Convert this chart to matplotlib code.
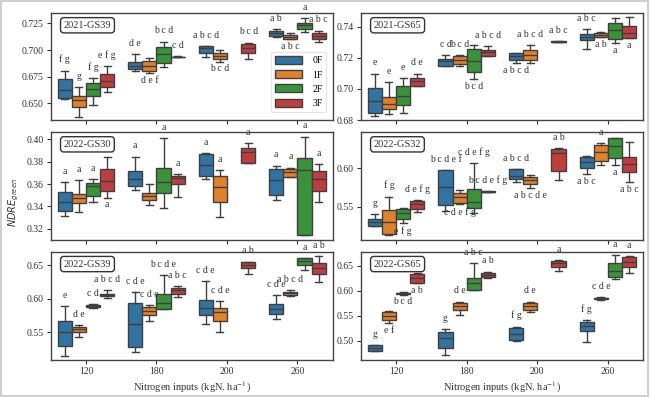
import matplotlib
matplotlib.use('Agg')
import matplotlib.pyplot as plt
from matplotlib.patches import Patch, Rectangle

plt.rcParams['font.family'] = ['Liberation Serif', 'DejaVu Serif']

# ---------------- data ----------------
groups = ['120', '180', '200', '260']
hues = ['0F', '1F', '2F', '3F']
colors = ['#3274a1', '#e1812c', '#3a923a', '#c03d3e']
titles = ['2021-GS39', '2021-GS65', '2022-GS30', '2022-GS32', '2022-GS39', '2022-GS65']
xlabel = 'Nitrogen inputs (kgN. ha$^{-1}$)'
ylabel = '$NDRE_{green}$'

# box stats per box: (whisker low, q1, median, q3, whisker high); None = no box
# ---- 2021-GS39
A_0F = [(0.6538, 0.6547, 0.6625, 0.6725, 0.6806), (0.6806, 0.6822, 0.6853, 0.6891, 0.6963), (0.6938, 0.6975, 0.7016, 0.7038, 0.7038), (0.7119, 0.7131, 0.7156, 0.7181, 0.7194)]
A_1F = [(0.6375, 0.6463, 0.6531, 0.6569, 0.6650), (0.6780, 0.6803, 0.6853, 0.6900, 0.6922), (0.6891, 0.6913, 0.6944, 0.6969, 0.7000), (0.7100, 0.7106, 0.7125, 0.7144, 0.7156)]
A_2F = [(0.6481, 0.6569, 0.6631, 0.6694, 0.6734), (0.6838, 0.6881, 0.6963, 0.7025, 0.7078), None, (0.7172, 0.7200, 0.7234, 0.7256, 0.7297)]
A_3F = [(0.6609, 0.6650, 0.6713, 0.6775, 0.6850), (0.6932, 0.6934, 0.6936, 0.6938, 0.6940), (0.6913, 0.6975, 0.7016, 0.7056, 0.7069), (0.7078, 0.7100, 0.7131, 0.7156, 0.7181)]
# ---- 2021-GS65
B_0F = [(0.6826, 0.6847, 0.6921, 0.7006, 0.7098), (0.7149, 0.7149, 0.7177, 0.7191, 0.7219), (0.7166, 0.7187, 0.7209, 0.7230, 0.7230), (0.7255, 0.7315, 0.7336, 0.7353, 0.7383)]
B_1F = [(0.6836, 0.6872, 0.6906, 0.6949, 0.7043), (0.7145, 0.7162, 0.7187, 0.7213, 0.7219), (0.7166, 0.7187, 0.7219, 0.7247, 0.7283), (0.7332, 0.7336, 0.7347, 0.7357, 0.7368)]
B_2F = [(0.6843, 0.6894, 0.6957, 0.7017, 0.7070), (0.7064, 0.7106, 0.7177, 0.7255, 0.7283), None, (0.7294, 0.7319, 0.7379, 0.7426, 0.7453)]
B_3F = [(0.7021, 0.7021, 0.7049, 0.7070, 0.7098), (0.7213, 0.7213, 0.7234, 0.7251, 0.7277), (0.7300, 0.7302, 0.7304, 0.7306, 0.7308), (0.7326, 0.7326, 0.7357, 0.7404, 0.7460)]
# ---- 2022-GS30
C_0F = [(0.3319, 0.3360, 0.3437, 0.3526, 0.3615), (0.3547, 0.3585, 0.3644, 0.3716, 0.3843), (0.3644, 0.3674, 0.3769, 0.3864, 0.3873), (0.3458, 0.3502, 0.3636, 0.3733, 0.3763)]
C_1F = [(0.3348, 0.3428, 0.3479, 0.3508, 0.3636), (0.3413, 0.3458, 0.3496, 0.3517, 0.3597), (0.3310, 0.3443, 0.3576, 0.3674, 0.3724), (0.3665, 0.3665, 0.3710, 0.3733, 0.3745)]
C_2F = [(0.3437, 0.3496, 0.3585, 0.3606, 0.3644), (0.3384, 0.3517, 0.3621, 0.3745, 0.4006), None, (0.3147, 0.3147, 0.3724, 0.3834, 0.4021)]
C_3F = [(0.3479, 0.3538, 0.3627, 0.3733, 0.3843), (0.3487, 0.3597, 0.3650, 0.3674, 0.3686), (0.3784, 0.3784, 0.3881, 0.3917, 0.3961), (0.3437, 0.3538, 0.3644, 0.3716, 0.3775)]
# ---- 2022-GS32
D_0F = [(0.5252, 0.5252, 0.5304, 0.5339, 0.5400), (0.5443, 0.5522, 0.5761, 0.5978, 0.5978), (0.5826, 0.5861, 0.5904, 0.5991, 0.5991), (0.5922, 0.6009, 0.6087, 0.6152, 0.6165)]
D_1F = [(0.5130, 0.5139, 0.5296, 0.5457, 0.5630), (0.5530, 0.5543, 0.5630, 0.5674, 0.5717), (0.5739, 0.5791, 0.5848, 0.5891, 0.5913), (0.6043, 0.6096, 0.6209, 0.6304, 0.6326)]
D_2F = [(0.5283, 0.5339, 0.5413, 0.5470, 0.5487), (0.5413, 0.5487, 0.5565, 0.5730, 0.6065), None, (0.6043, 0.6139, 0.6296, 0.6400, 0.6400)]
D_3F = [(0.5435, 0.5470, 0.5530, 0.5574, 0.5587), (0.5686, 0.5691, 0.5696, 0.5701, 0.5706), (0.5848, 0.5965, 0.6196, 0.6252, 0.6261), (0.5817, 0.5957, 0.6052, 0.6152, 0.6339)]
# ---- 2022-GS39
E_0F = [(0.5150, 0.5300, 0.5500, 0.5665, 0.5885), (0.5200, 0.5285, 0.5615, 0.5935, 0.6100), (0.5625, 0.5750, 0.5865, 0.5985, 0.6265), (0.5700, 0.5775, 0.5850, 0.5925, 0.6050)]
E_1F = [(0.5435, 0.5500, 0.5550, 0.5585, 0.5600), (0.5665, 0.5750, 0.5815, 0.5875, 0.5900), (0.5500, 0.5665, 0.5800, 0.5865, 0.5965), (0.6035, 0.6060, 0.6085, 0.6105, 0.6125)]
E_2F = [(0.5855, 0.5875, 0.5895, 0.5905, 0.5915), (0.5850, 0.5850, 0.5935, 0.6075, 0.6350), None, (0.6425, 0.6500, 0.6565, 0.6600, 0.6600)]
E_3F = [(0.6015, 0.6035, 0.6055, 0.6075, 0.6125), (0.6025, 0.6065, 0.6135, 0.6165, 0.6185), (0.6365, 0.6450, 0.6500, 0.6550, 0.6550), (0.6250, 0.6365, 0.6450, 0.6535, 0.6635)]
# ---- 2022-GS65
F_0F = [(0.4792, 0.4792, 0.4859, 0.4913, 0.4913), (0.4712, 0.4846, 0.5047, 0.5181, 0.5228), (0.5000, 0.5013, 0.5134, 0.5248, 0.5281), (0.4980, 0.5201, 0.5295, 0.5382, 0.5415)]
F_1F = [(0.5348, 0.5415, 0.5496, 0.5583, 0.5603), (0.5516, 0.5616, 0.5697, 0.5750, 0.5784), (0.5583, 0.5616, 0.5697, 0.5764, 0.5784), (0.5825, 0.5835, 0.5851, 0.5865, 0.5875)]
F_2F = [(0.5925, 0.5935, 0.5951, 0.5965, 0.5975), (0.6018, 0.6018, 0.6152, 0.6252, 0.6554), None, (0.6232, 0.6273, 0.6407, 0.6554, 0.6721)]
F_3F = [(0.6152, 0.6152, 0.6253, 0.6340, 0.6366), (0.6253, 0.6273, 0.6320, 0.6353, 0.6386), (0.6407, 0.6474, 0.6554, 0.6607, 0.6621), (0.6366, 0.6474, 0.6587, 0.6688, 0.6701)]

# significance letters per hue, and whether written above (u) or below (d) the box
A_letters = [['f g', 'd e', 'a b c d', 'a b'], ['g', 'd e f', 'b c d', 'a b c'], ['f g', 'b c d', None, 'a'], ['e f g', 'c d', 'b c d', 'a b c']]
A_side = [['u', 'u', 'u', 'u'], ['u', 'd', 'd', 'd'], ['u', 'u', None, 'u'], ['u', 'u', 'u', 'u']]
B_letters = [['e', 'c d', 'a b c d', 'a b c'], ['e', 'b c d', 'a b c d', 'a b'], ['e', 'b c d', None, 'a'], ['d e', 'a b c d', 'a b c', 'a']]
B_side = [['u', 'u', 'd', 'u'], ['u', 'u', 'u', 'd'], ['u', 'd', None, 'd'], ['u', 'u', 'u', 'd']]
C_letters = [['a', 'a', 'a', 'a'], ['a', None, 'a', 'a'], ['a', 'a', None, 'a'], ['a', 'a', 'a', 'a']]
C_side = [['u', 'u', 'u', 'u'], ['u', None, 'u', 'u'], ['u', 'u', None, 'u'], ['d', 'u', 'u', 'u']]
D_letters = [['g', 'b c d e f', 'a b c d', 'a b c'], ['f g', 'c d e f g', 'a b c d e', 'a'], ['e f g', 'c d e f g', None, 'a'], ['d e f g', 'b c d e f g', 'a b', 'a b c']]
D_side = [['u', 'u', 'u', 'd'], ['u', 'd', 'd', 'u'], ['d', 'u', None, 'd'], ['u', 'u', 'u', 'd']]
E_letters = [['e', 'c d e', 'c d e', 'c d e'], ['d e', 'c d e', 'c d e', 'a b c d'], ['c d', 'b c d e', None, 'a'], ['a b c d', 'a b c', 'a b', 'a b']]
E_side = [['u', 'u', 'u', 'u'], ['u', 'u', 'u', 'u'], ['u', 'u', None, 'u'], ['u', 'u', 'u', 'u']]
F_letters = [['g', 'g', 'f g', 'f g'], ['e f', 'd e', 'd e', 'c d e'], ['b c d', 'a b c', None, 'a'], ['a b', 'a b', 'a', 'a']]
F_side = [['u', 'u', 'u', 'u'], ['d', 'u', 'u', 'u'], ['d', 'u', None, 'u'], ['d', 'u', 'u', 'u']]

yticks_all = [[0.650, 0.675, 0.700, 0.725], [0.68, 0.70, 0.72, 0.74], [0.32, 0.34, 0.36, 0.38, 0.40],
              [0.55, 0.60], [0.55, 0.60, 0.65], [0.50, 0.55, 0.60, 0.65]]
ytick_fmt = ['%.3f', '%.2f', '%.2f', '%.2f', '%.2f', '%.2f']
ylims = [(0.6344, 0.7344), (0.6803, 0.7486), (0.3102, 0.406), (0.5066, 0.647), (0.5086, 0.6695), (0.461, 0.678)]

panel_boxes = [[A_0F, A_1F, A_2F, A_3F], [B_0F, B_1F, B_2F, B_3F], [C_0F, C_1F, C_2F, C_3F],
               [D_0F, D_1F, D_2F, D_3F], [E_0F, E_1F, E_2F, E_3F], [F_0F, F_1F, F_2F, F_3F]]
panel_letters = [A_letters, B_letters, C_letters, D_letters, E_letters, F_letters]
panel_sides = [A_side, B_side, C_side, D_side, E_side, F_side]

# ---------------- figure ----------------
W, H = 650, 397
fig = plt.figure(figsize=(W / 100, H / 100), dpi=100)
fig.patches.append(Rectangle((0.002, 0.003), 0.995, 0.994, transform=fig.transFigure,
                             fill=False, edgecolor='#cfcfcf', lw=1.5))

cols_px = [(50.7, 332.7), (360.7, 643.3)]
rows_px = [(13.3, 120.0), (132.3, 240.0), (252.0, 360.0)]
edge = '#3f3f3f'
bw = 0.2
offsets = [-0.3, -0.1, 0.1, 0.3]

axes = []
for p in range(6):
    r, c = divmod(p, 2)
    x0, x1 = cols_px[c]
    t, b = rows_px[r]
    ax = fig.add_axes([x0 / W, (H - b) / H, (x1 - x0) / W, (b - t) / H])
    axes.append(ax)
    stats, pos, cols = [], [], []
    for h in range(4):
        for g in range(4):
            s = panel_boxes[p][h][g]
            if s is None:
                continue
            stats.append(dict(whislo=s[0], q1=s[1], med=s[2], q3=s[3], whishi=s[4], fliers=[]))
            pos.append(g + offsets[h])
            cols.append(colors[h])
    bp = ax.bxp(stats, positions=pos, widths=bw, patch_artist=True, showfliers=False,
                boxprops=dict(edgecolor=edge, linewidth=1.0),
                medianprops=dict(color=edge, linewidth=1.0),
                whiskerprops=dict(color=edge, linewidth=1.0),
                capprops=dict(color=edge, linewidth=1.0))
    for patch, col in zip(bp['boxes'], cols):
        patch.set_facecolor(col)
    # letters
    for h in range(4):
        for g in range(4):
            s = panel_boxes[p][h][g]
            lt = panel_letters[p][h][g]
            if s is None or lt is None:
                continue
            if panel_sides[p][h][g] == 'u':
                ax.annotate(lt, (g + offsets[h], s[4]), xytext=(0, 4.5), textcoords='offset points',
                            ha='center', va='bottom', fontsize=7, color='#333333', annotation_clip=False)
            else:
                ax.annotate(lt, (g + offsets[h], s[0]), xytext=(0, -2), textcoords='offset points',
                            ha='center', va='top', fontsize=7, color='#333333', annotation_clip=False)
    ax.set_xlim(-0.5, 3.5)
    ax.set_ylim(*ylims[p])
    ax.set_yticks(yticks_all[p])
    ax.set_yticklabels([ytick_fmt[p] % v for v in yticks_all[p]])
    ax.set_xticks(range(4))
    if r == 2:
        ax.set_xticklabels(groups)
        ax.set_xlabel(xlabel, fontsize=7.5, math_fontfamily='stix', color='#333333', labelpad=3)
    else:
        ax.set_xticklabels([])
    ax.tick_params(direction='out', length=3, width=0.8, labelsize=7, colors='#333333', pad=2)
    for sp in ax.spines.values():
        sp.set_color('#444444')
        sp.set_linewidth(1.0)
    ax.text(0.046, 0.93, titles[p], transform=ax.transAxes, ha='left', va='top', fontsize=7.5,
            color='#333333',
            bbox=dict(boxstyle='round,pad=0.3', facecolor='white', edgecolor='#333333', linewidth=1.0))

# legend
handles = [Patch(facecolor=colors[i], edgecolor=edge, linewidth=1.0, label=hues[i]) for i in range(4)]
leg = axes[0].legend(handles=handles, loc='lower right', fontsize=7, handlelength=2.8, handleheight=0.9,
                     labelspacing=0.5, handletextpad=1.0, borderpad=0.4, frameon=True,
                     bbox_to_anchor=(0.995, 0.03))
leg.get_frame().set_edgecolor('#dddddd')
leg.get_frame().set_linewidth(0.8)

fig.text(0.022, 0.489, ylabel, rotation=90, ha='center', va='center', fontsize=7,
         math_fontfamily='dejavusans', color='#333333')

fig.savefig('out.png', dpi=100)
